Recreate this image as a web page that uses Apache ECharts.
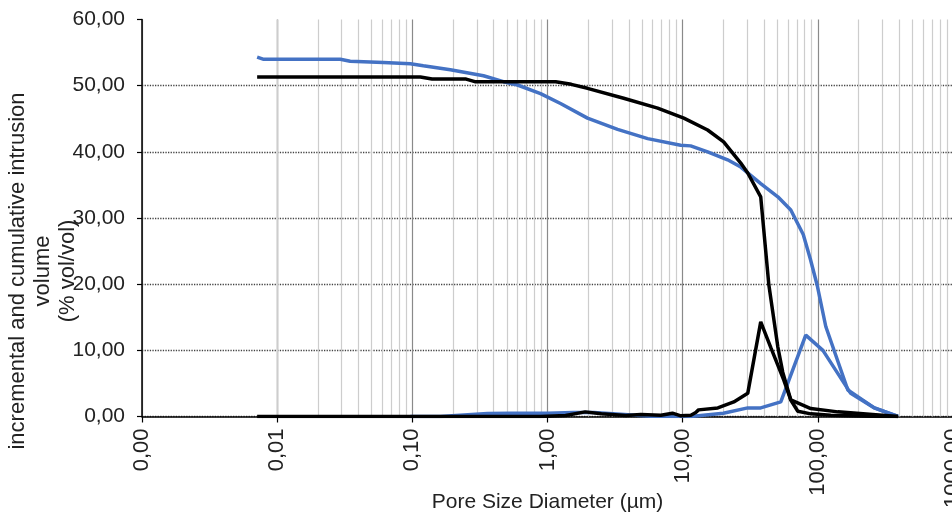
<!DOCTYPE html>
<html>
<head>
<meta charset="utf-8">
<script src="https://cdn.jsdelivr.net/npm/echarts@6/dist/echarts.min.js"></script>
<style>html,body{margin:0;padding:0;background:#fff}#c{width:952px;height:527px}</style>
</head>
<body>
<div id="c"></div>
<script>
// Pore diameters (µm) and volumes (% vol/vol)
const blueCumDiam = [0.00711,0.00786,0.0293,0.0347,0.061,0.0967,0.1206,0.191,0.336,0.472,0.600,0.888,1.248,1.976,3.30,5.51,9.66,11.46,15.3,21.5,26.9,37.8,50.6,63.1,78,88,99,114.5,166.7,262,392];
const blueCumVol  = [54.3,54.0,54.0,53.7,53.5,53.3,53.0,52.4,51.5,50.6,50.1,48.8,47.3,45.1,43.4,42.0,41.0,40.9,40.0,38.8,37.7,35.2,33.2,31.2,27.5,23.8,19.8,13.6,4.0,1.3,0];

const blackCumDiam = [0.00711,0.1146,0.14,0.25,0.29,1.15,1.5,1.976,3.66,6.53,10.2,15.3,20.1,26.9,30.3,37.8,43.4,50.6,55.0,63.1,71.1,88.7,124.7,247,392];
const blackCumVol  = [51.3,51.3,51.0,51.0,50.6,50.6,50.2,49.6,48.1,46.6,45.1,43.3,41.5,38.3,36.8,33.2,19.9,10.5,6.7,2.5,0.8,0.4,0.2,0.05,0];

const blackIncDiam = [0.00711,0.888,1.36,1.9,2.5,3.8,4.9,6.9,8.4,9.7,11.5,12.5,13.1,18.2,23.9,30.3,37.8,44.9,56.0,63.1,88.7,140.6,392];
const blackIncVol  = [0,0,0.15,0.7,0.4,0.15,0.3,0.2,0.5,0.1,0.2,0.6,1.0,1.3,2.2,3.5,14.3,10.4,5.5,2.5,1.2,0.7,0];

const blueIncDiam = [0.0967,0.161,0.36,0.53,1.0,1.56,2.2,3.47,5.8,11.5,20.0,30.3,37.8,53.2,81.4,109,175,262,392];
const blueIncVol  = [0,0,0.45,0.5,0.5,0.6,0.6,0.35,0.05,0,0.5,1.3,1.3,2.2,12.3,10.0,3.5,1.3,0];

const yTicks = [0,10,20,30,40,50,60];
const xName = 'Pore Size Diameter (µm)';
const yName = 'incremental and cumulative intrusion\nvolume\n(% vol/vol)';

const pairs = (xs, ys) => xs.map((x, i) => [x, ys[i]]);
const fmt = v => Number(v).toFixed(2).replace('.', ',');
const FONT = '"Liberation Sans", Arial, sans-serif';

// minor log grid positions (2..9 within each decade)
const minorGrid = [];
for (let e = -3; e < 3; e++) for (let k = 2; k < 10; k++) minorGrid.push(+(k * Math.pow(10, e)).toPrecision(3));

const chart = echarts.init(document.getElementById('c'), null, {renderer: 'canvas'});
const lineSeries = (name, xs, ys, color) => ({
  name, type: 'line', data: pairs(xs, ys), showSymbol: false, symbol: 'none',
  lineStyle: {color, width: 3.5}, itemStyle: {color}, z: 5, animation: false
});
chart.setOption({
  animation: false,
  textStyle: {fontFamily: FONT},
  grid: {left: 142, top: 19.5, width: 811, height: 397, containLabel: false, outerBoundsMode: 'none'},
  xAxis: {
    type: 'log', logBase: 10, min: 0.001, max: 1000,
    axisLine: {show: true, lineStyle: {color: '#000', width: 1.5}},
    axisTick: {show: true, length: 6, inside: false, lineStyle: {color: '#000', width: 1.2}},
    axisLabel: {rotate: 90, margin: 12, fontSize: 22, color: '#222', fontFamily: FONT, formatter: fmt, showMaxLabel: true, showMinLabel: true, hideOverlap: false},
    splitLine: {show: true, lineStyle: {color: '#8a8a8a', width: 1.2}},
    name: xName, nameLocation: 'middle', nameGap: 75, nameMoveOverlap: false,
    nameTextStyle: {fontSize: 21, color: '#222', fontFamily: FONT}
  },
  yAxis: {
    type: 'value', min: yTicks[0], max: yTicks[yTicks.length - 1], interval: 10,
    axisLine: {show: true, lineStyle: {color: '#000', width: 1.5}},
    axisTick: {show: true, length: 5, lineStyle: {color: '#000', width: 1.2}},
    axisLabel: {margin: 17, fontSize: 21, color: '#222', fontFamily: FONT, formatter: fmt},
    splitLine: {show: true, showMaxLine: false, lineStyle: {color: '#444', type: 'dotted', width: 1.3}}
  },
  graphic: [{
    type: 'text', x: 43, y: 271, rotation: Math.PI / 2, silent: true,
    style: {text: yName, font: '22px ' + FONT, fill: '#222', align: 'center', verticalAlign: 'middle', lineHeight: 25}
  }],
  series: [
    {
      name: 'grid', type: 'line', data: [], z: 1, silent: true,
      markLine: {
        silent: true, symbol: ['none', 'none'], label: {show: false}, animation: false,
        lineStyle: {color: '#cdcdcd', type: 'solid', width: 1.2},
        emphasis: {disabled: true},
        data: minorGrid.map(v => ({xAxis: v}))
      }
    },
    lineSeries('blue cumulative', blueCumDiam, blueCumVol, '#4472C4'),
    lineSeries('blue incremental', blueIncDiam, blueIncVol, '#4472C4'),
    lineSeries('black cumulative', blackCumDiam, blackCumVol, '#000000'),
    lineSeries('black incremental', blackIncDiam, blackIncVol, '#000000')
  ]
});
</script>
</body>
</html>
